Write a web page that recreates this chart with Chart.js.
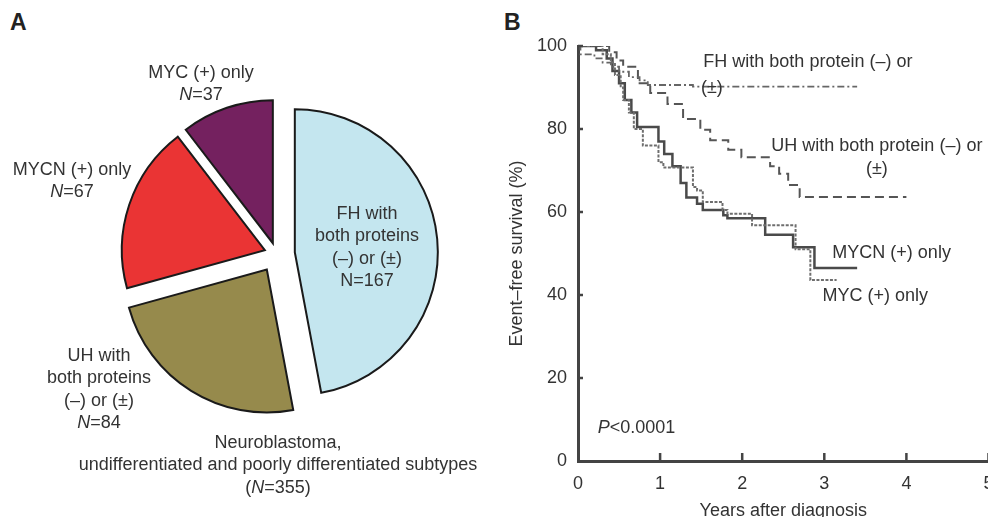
<!DOCTYPE html>
<html>
<head>
<meta charset="utf-8">
<script src="https://cdn.jsdelivr.net/npm/chart.js@4.4.1/dist/chart.umd.min.js"></script>
<style>
  html, body { margin: 0; padding: 0; background: #fff; overflow: hidden; width: 988px; height: 517px; }
  body { position: relative; font-family: 'Liberation Sans', Arial, sans-serif; color: #333; }
  canvas { position: absolute; }
  #pie-chart { left: 0; top: 0; }
  #km-chart { left: 495px; top: 0; }
  .panel { position: absolute; font-weight: bold; font-size: 23px; color: #222; line-height: 1; }
  .lbl { position: absolute; font-size: 18px; line-height: 22.4px; text-align: center; transform: translateX(-50%); white-space: nowrap; }
</style>
</head>
<body>
<div class="panel" style="left:10px; top:11px;">A</div>
<div class="panel" style="left:504px; top:11px;">B</div>

<canvas id="pie-chart" width="553" height="508"></canvas>
<canvas id="km-chart" width="520" height="530"></canvas>

<div class="lbl" style="left:201px; top:61px;">MYC (+) only<br><i>N</i>=37</div>
<div class="lbl" style="left:72px; top:158px;">MYCN (+) only<br><i>N</i>=67</div>
<div class="lbl" style="left:367px; top:202px;">FH with<br>both proteins<br>(–) or (±)<br>N=167</div>
<div class="lbl" style="left:99px; top:344px;">UH with<br>both proteins<br>(–) or (±)<br><i>N</i>=84</div>
<div class="lbl" style="left:278px; top:431px;">Neuroblastoma,<br>undifferentiated and poorly differentiated subtypes<br>(<i>N</i>=355)</div>

<script>
const FONT = "'Liberation Sans', Arial, sans-serif";

// panel A: patient counts per group
const pieGroups = ['FH with both proteins (–) or (±)', 'UH with both proteins (–) or (±)', 'MYCN (+) only', 'MYC (+) only'];
const pieCounts = [167, 84, 67, 37];
const pieColors = ['#c4e6ef', '#968a4c', '#ea3434', '#74215f'];
const pieExplode = [18.4, 18.3, 12.3, 11.4]; // px each slice is pulled out

// panel B: Kaplan-Meier steps (years, event-free survival %)
const fhYears = [0, 0.03, 0.2, 0.3, 0.4, 0.5, 0.62, 0.75, 0.85, 1.4, 3.4];
const fhSurv  = [100, 98, 97, 96, 95, 93.8, 92.5, 91.7, 90.6, 90.2, 90.2];

const uhYears = [0, 0.38, 0.47, 0.55, 0.73, 0.88, 1.09, 1.28, 1.49, 1.61, 1.83, 1.99, 2.34, 2.45, 2.56, 2.7, 4.0];
const uhSurv  = [100, 98.5, 96.5, 95, 91, 88.7, 86, 82.4, 79.8, 77.3, 75, 73.2, 71, 69.2, 66.5, 63.6, 63.6];

const mycnYears = [0, 0.22, 0.35, 0.42, 0.5, 0.57, 0.65, 0.72, 0.98, 1.05, 1.15, 1.25, 1.32, 1.45, 1.52, 1.77, 1.82, 2.28, 2.62, 2.88, 3.4];
const mycnSurv  = [100, 99, 97, 94, 91, 87, 84, 80.5, 77, 74, 71, 67, 63.5, 62, 60.5, 59.2, 58.5, 54.5, 51.5, 46.5, 46.5];

const mycYears = [0, 0.3, 0.4, 0.45, 0.52, 0.55, 0.62, 0.68, 0.79, 0.98, 1.04, 1.4, 1.45, 1.52, 1.76, 1.82, 2.12, 2.65, 2.83, 3.15];
const mycSurv  = [100, 98, 96, 93, 90, 87, 84, 80, 76, 72, 70.7, 66, 65.2, 62.4, 60.5, 59.6, 56.8, 51, 43.6, 43.6];

const xTicks = [0, 1, 2, 3, 4, 5];
const yTicks = [0, 20, 40, 60, 80, 100];

// shift each arc along its middle angle without growing its radius
const explodeSlices = {
  id: 'explodeSlices',
  afterUpdate(chart) {
    chart.getDatasetMeta(0).data.forEach((arc, i) => {
      const mid = (arc.startAngle + arc.endAngle) / 2;
      arc.x += Math.cos(mid) * pieExplode[i];
      arc.y += Math.sin(mid) * pieExplode[i];
    });
  },
};

new Chart(document.getElementById('pie-chart'), {
  type: 'pie',
  data: {
    labels: pieGroups,
    datasets: [{
      data: pieCounts,
      backgroundColor: pieColors,
      borderColor: '#1a1a1a',
      borderWidth: 2,
      borderJoinStyle: 'miter',
      radius: 143,
    }],
  },
  options: {
    responsive: false,
    animation: false,
    events: [],
    rotation: 0,
    plugins: { legend: { display: false }, tooltip: { enabled: false } },
  },
  plugins: [explodeSlices],
});

function kmSeries(years, surv, color, width, dash) {
  return {
    data: years.map((x, i) => ({ x, y: surv[i] })),
    borderColor: color,
    borderWidth: width,
    borderDash: dash,
    stepped: true,
    pointRadius: 0,
    fill: false,
  };
}

const innerTicks = {
  id: 'innerTicks',
  afterDraw(chart) {
    const { ctx, chartArea: { left, bottom }, scales: { x, y } } = chart;
    ctx.save();
    ctx.strokeStyle = '#444';
    ctx.lineWidth = 2.5;
    ctx.beginPath();
    xTicks.forEach((v) => {
      if (v === 0) return;
      const px = x.getPixelForValue(v);
      ctx.moveTo(px, bottom);
      ctx.lineTo(px, bottom - 8);
    });
    yTicks.forEach((v) => {
      if (v === 0) return;
      const py = y.getPixelForValue(v);
      ctx.moveTo(left, py);
      ctx.lineTo(left + 5, py);
    });
    ctx.stroke();
    ctx.restore();
  },
};

const kmNotes = {
  id: 'kmNotes',
  afterDatasetsDraw(chart) {
    const { ctx, scales: { x, y } } = chart;
    const put = (text, xv, yv, align) => {
      ctx.textAlign = align || 'center';
      ctx.fillText(text, x.getPixelForValue(xv), y.getPixelForValue(yv));
    };
    ctx.save();
    ctx.fillStyle = '#333';
    ctx.textBaseline = 'middle';
    ctx.font = `18px ${FONT}`;
    put('FH with both protein (–) or', 2.8, 96.1);
    put('(±)', 1.63, 89.9);
    put('UH with both protein (–) or', 3.64, 75.9);
    put('(±)', 3.64, 70.4);
    put('MYCN (+) only', 3.82, 50.1);
    put('MYC (+) only', 3.62, 39.8);
    ctx.font = `italic 18px ${FONT}`;
    put('P', 0.24, 8, 'left');
    const pw = ctx.measureText('P').width;
    ctx.font = `18px ${FONT}`;
    ctx.textAlign = 'left';
    ctx.fillText('<0.0001', x.getPixelForValue(0.24) + pw, y.getPixelForValue(8));
    ctx.restore();
  },
};

new Chart(document.getElementById('km-chart'), {
  type: 'line',
  data: {
    datasets: [
      kmSeries(fhYears, fhSurv, '#666', 1.8, [7, 3, 2, 3]),
      kmSeries(uhYears, uhSurv, '#555', 2, [9, 5]),
      kmSeries(mycYears, mycSurv, '#6e6e6e', 2, [3, 1.5]),
      kmSeries(mycnYears, mycnSurv, '#4a4a4a', 2.5, []),
    ],
  },
  options: {
    responsive: false,
    animation: false,
    events: [],
    layout: { padding: { top: 46, right: 26.5, left: 0, bottom: 0 } },
    plugins: { legend: { display: false }, tooltip: { enabled: false } },
    scales: {
      x: {
        type: 'linear',
        min: 0,
        max: 5,
        afterBuildTicks(s) { s.ticks = xTicks.map((value) => ({ value })); },
        afterFit(s) { s.height = 69; },
        ticks: { padding: 4, color: '#333', font: { size: 18, family: FONT } },
        grid: { display: false },
        border: { display: true, color: '#444', width: 3 },
        title: { display: true, text: 'Years after diagnosis', color: '#333', font: { size: 18, family: FONT }, padding: { top: 0, bottom: 8 } },
      },
      y: {
        min: 0,
        max: 100,
        afterBuildTicks(s) { s.ticks = yTicks.map((value) => ({ value })); },
        afterFit(s) { s.width = 83; },
        ticks: { padding: 3, color: '#333', font: { size: 18, family: FONT } },
        grid: { display: false },
        border: { display: true, color: '#444', width: 3 },
        title: { display: true, text: 'Event–free survival (%)', color: '#333', font: { size: 18, family: FONT }, padding: { top: 11, bottom: 0 } },
      },
    },
  },
  plugins: [innerTicks, kmNotes],
});
</script>
</body>
</html>
